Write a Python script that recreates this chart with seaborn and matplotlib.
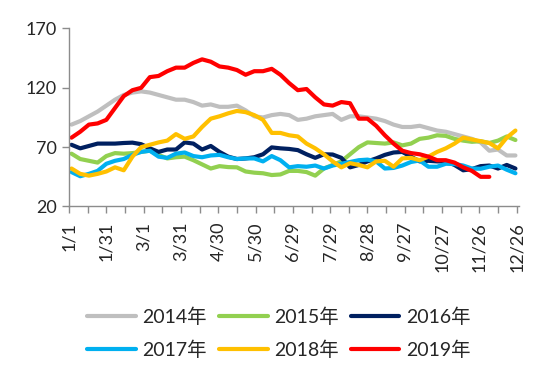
import numpy as np
import pandas as pd
import matplotlib
matplotlib.use('Agg')
import matplotlib.pyplot as plt
import seaborn as sns

# weekly observations, plotted on a month/day axis (leap-year calendar)
weeks = pd.date_range('2016-01-03', periods=52, freq='7D')
days = (weeks - pd.Timestamp('2016-01-01')).days

y2014 = [89, 92, 96, 100, 105, 110, 114, 116, 117, 116, 114, 112, 110, 110, 108, 105,
         106, 104, 104, 105, 101, 96, 95, 97, 98, 97, 93, 94, 96, 97, 98, 93,
         96, 96, 95, 94, 92, 89, 87, 87, 88, 86, 84, 83, 81, 79, 77, 74,
         67, 68, 63, 63]
y2015 = [64.5, 60, 58.5, 57, 62.5, 65, 64.5, 65, 66, 67, 63.5, 60.5, 61.5, 62, 59, 55.5,
         52, 54, 53.2, 53, 49.5, 48.5, 48, 46.5, 47, 50, 50, 49, 46, 52, 55, 58,
         64, 70, 74, 73.5, 73, 74, 71.5, 73, 77, 78, 80, 79.5, 77, 75.5, 74.5, 75,
         73.5, 75.5, 79, 76]
y2016 = [72, 69, 71, 73, 73, 73, 73.5, 73.8, 72.5, 69, 66, 68, 68, 74, 73, 68,
         71, 66, 62, 60, 60.5, 61.5, 64, 69.8, 69, 68.5, 67.5, 64, 61, 64, 63.8, 61,
         53, 55, 58, 60.5, 63.5, 65.5, 66, 62, 58, 58.5, 58, 58, 55, 50.5, 51.5, 54,
         54.5, 52, 55, 52]
y2017 = [49, 45.5, 47.5, 50, 56, 58.5, 60, 63.5, 66, 67, 62, 61, 64.5, 65.5, 62.5, 61.5,
         63, 63.5, 61.5, 60, 60.5, 60.5, 58, 62.5, 59, 53, 54, 53.5, 54.5, 52, 54.5, 56,
         57.5, 59, 59.5, 58, 52, 52.5, 54.5, 57.5, 58.8, 53.5, 53.5, 56, 55.8, 54.5, 52, 51.8,
         53.5, 54.5, 51, 48]
y2018 = [52, 47.5, 46, 47.5, 49.5, 53, 50.5, 62, 70, 72, 74, 75.5, 81, 77, 79, 87,
         94, 96, 98.5, 100.5, 99.5, 97, 93, 82, 82, 80, 79, 73, 69, 64, 58, 53,
         56.5, 55, 53, 58, 58.5, 53.5, 60.5, 61, 59, 62, 66, 69, 73, 78, 76.5, 75,
         73.5, 69, 78, 84]
y2019 = [78, 83, 89, 90, 93, 103, 113, 118, 120, 129, 130, 134, 137, 137, 141, 144,
         142, 138, 137, 135, 131, 134, 134, 136, 131, 124, 118, 119, 112, 106, 105, 108,
         107, 94, 94, 88, 80, 73, 67, 65, 64, 62, 59, 59, 57, 53, 50, 45,
         45]

years = ['2014年', '2015年', '2016年', '2017年', '2018年', '2019年']
colors = ['#BFBFBF', '#92D050', '#002060', '#00B0F0', '#FFC000', '#FF0000']
tick_days = list(range(0, 361, 30))
tick_labels = ['1/1', '1/31', '3/1', '3/31', '4/30', '5/30', '6/29',
               '7/29', '8/28', '9/27', '10/27', '11/26', '12/26']

frames = []
for name, vals in zip(years, [y2014, y2015, y2016, y2017, y2018, y2019]):
    frames.append(pd.DataFrame({'day': days[:len(vals)], 'value': vals, 'year': name}))
df = pd.concat(frames, ignore_index=True)

sns.set_style('white')
plt.rcParams['font.family'] = ['Lato', 'Noto Sans CJK SC', 'DejaVu Sans']

fig = plt.figure(figsize=(5.5, 3.88), dpi=100)
ax = fig.add_axes([0.1255, 0.4678, 0.8173, 0.4588])

sns.lineplot(data=df, x='day', y='value', hue='year', hue_order=years,
             palette=colors, linewidth=3.0, ax=ax)

ax.set_xlim(0, 361.5)
ax.set_ylim(20, 170)
ax.set_yticks([20, 70, 120, 170])
ax.set_xticks(tick_days)
ax.set_xticklabels(tick_labels, rotation=90)
ax.set_xticks(range(15, 360, 30), minor=True)
ax.set_xlabel('')
ax.set_ylabel('')

for s in ['top', 'right']:
    ax.spines[s].set_visible(False)
for s in ['left', 'bottom']:
    ax.spines[s].set_color('#8C8C8C')
    ax.spines[s].set_linewidth(1.0)

ax.tick_params(axis='x', which='both', direction='out', length=5, width=1.0,
               color='#8C8C8C', bottom=True, labelsize=13, pad=6)
ax.tick_params(axis='y', direction='out', length=5, width=1.0,
               color='#8C8C8C', left=True, labelsize=13, pad=4)

handles, labels = ax.get_legend_handles_labels()
ax.get_legend().remove()
# matplotlib fills legend columns first; reorder so rows read 2014-2016, 2017-2019
order = [0, 3, 1, 4, 2, 5]
leg = fig.legend([handles[i] for i in order], [labels[i] for i in order],
                 loc='center', bbox_to_anchor=(279 / 550, 1 - 333 / 388),
                 ncol=3, frameon=False, fontsize=14, handlelength=2.5,
                 handletextpad=0.35, columnspacing=0.6, labelspacing=0.75)
for line in leg.get_lines():
    line.set_linewidth(3.0)

fig.savefig('out.png', dpi=100)
